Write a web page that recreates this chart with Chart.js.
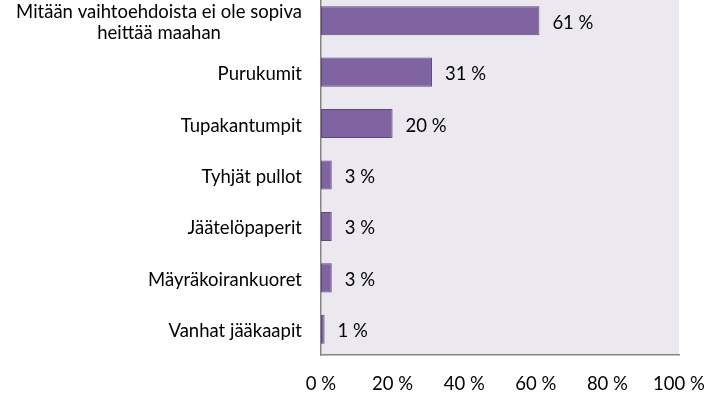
<!DOCTYPE html>
<html>
<head>
<meta charset="utf-8">
<script src="https://cdn.jsdelivr.net/npm/chart.js@4"></script>
<style>
  body { margin: 0; background: #fff; overflow: hidden; }
  #wrap { position: relative; width: 705px; height: 400px; margin-top: -5px; }
</style>
</head>
<body>
<div id="wrap"><canvas id="chart" width="705" height="400"></canvas></div>
<script>
var categories = [
  ['Mitään vaihtoehdoista ei ole sopiva', 'heittää maahan'],
  ['Purukumit'],
  ['Tupakantumpit'],
  ['Tyhjät pullot'],
  ['Jäätelöpaperit'],
  ['Mäyräkoirankuoret'],
  ['Vanhat jääkaapit']
];
var values = [61, 31, 20, 3, 3, 3, 1];
var xTicks = [0, 20, 40, 60, 80, 100];

var FONT = 'Lato, "Open Sans", sans-serif';
var FSIZE = 18.5;

// plot background, category labels and value labels
var decor = {
  id: 'decor',
  beforeDraw: function (chart) {
    var a = chart.chartArea, ctx = chart.ctx;
    ctx.save();
    ctx.fillStyle = '#ebe9ef';
    ctx.fillRect(a.left, a.top, a.right - a.left, a.bottom - a.top);
    ctx.restore();
  },
  afterDraw: function (chart) {
    var ctx = chart.ctx;
    var yScale = chart.scales.y;
    var bars = chart.getDatasetMeta(0).data;
    ctx.save();
    ctx.font = FSIZE + 'px ' + FONT;
    ctx.fillStyle = '#000';
    ctx.textBaseline = 'middle';
    for (var i = 0; i < categories.length; i++) {
      var lines = categories[i];
      var cy = yScale.getPixelForValue(i) + 2;
      var lh = 21;
      var top = cy - (lines.length - 1) * lh / 2;
      var w0 = ctx.measureText(lines[0]).width;
      for (var j = 0; j < lines.length; j++) {
        if (j == 0) {
          ctx.textAlign = 'right';
          ctx.fillText(lines[j], 302, top + j * lh);
        } else {
          ctx.textAlign = 'center';
          ctx.fillText(lines[j], 302 - w0 / 2, top + j * lh);
        }
      }
      ctx.textAlign = 'left';
      ctx.fillText(values[i] + ' %', bars[i].x + 13, bars[i].y + 2);
    }
    ctx.restore();
  }
};

new Chart(document.getElementById('chart'), {
  type: 'bar',
  data: {
    labels: categories.map(function (c) { return c.join(' '); }),
    datasets: [{
      data: values,
      backgroundColor: '#8064a2',
      borderColor: '#5e4a7d',
      borderWidth: 1,
      borderSkipped: false,
      barPercentage: 0.565,
      categoryPercentage: 1
    }]
  },
  plugins: [decor],
  options: {
    indexAxis: 'y',
    responsive: false,
    animation: false,
    layout: { padding: { left: 321, right: 26, top: 0, bottom: 0 } },
    plugins: { legend: { display: false }, tooltip: { enabled: false } },
    scales: {
      x: {
        min: 0,
        max: 100,
        afterBuildTicks: function (axis) {
          axis.ticks = xTicks.map(function (v) { return { value: v }; });
        },
        afterFit: function (axis) {
          axis.height = 40;
          axis.paddingLeft = 0;
          axis.paddingRight = 0;
        },
        grid: { display: false, drawTicks: false },
        border: { display: true, color: '#868686', width: 1.5 },
        ticks: {
          padding: 18,
          color: '#000',
          font: { family: FONT, size: FSIZE },
          maxRotation: 0,
          callback: function (v) { return v + ' %'; }
        }
      },
      y: {
        afterFit: function (axis) {
          axis.width = 0;
          axis.paddingTop = 0;
          axis.paddingBottom = 0;
        },
        grid: { display: false, drawTicks: false },
        border: { display: true, color: '#868686', width: 1.5 },
        ticks: { display: false }
      }
    }
  }
});
</script>
</body>
</html>
